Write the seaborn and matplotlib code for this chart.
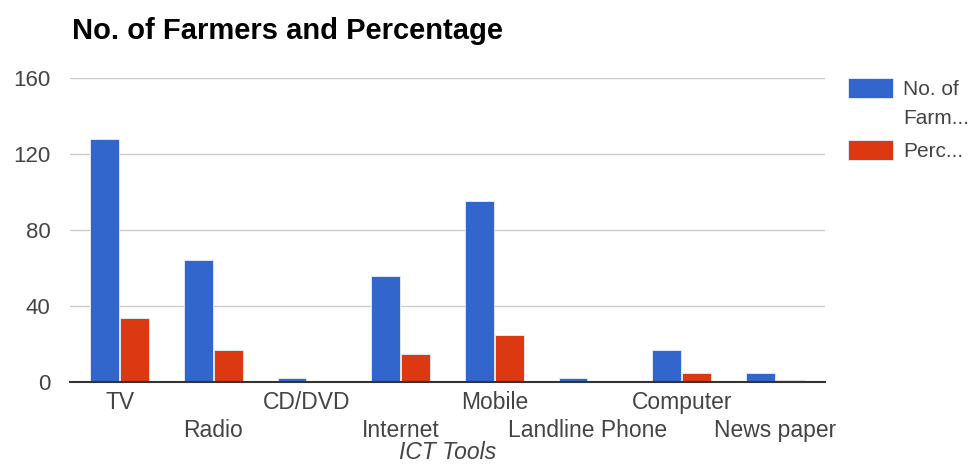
import matplotlib
matplotlib.use("Agg")
import matplotlib.pyplot as plt
from matplotlib.patches import Rectangle
import seaborn as sns
import pandas as pd

tools = ["TV", "Radio", "CD/DVD", "Internet", "Mobile", "Landline Phone", "Computer", "News paper"]
farmers = [128, 64, 2, 56, 95, 2, 17, 5]
percentage = [33.6, 16.8, 0.5, 14.7, 24.9, 0.5, 4.5, 1.3]
series = ["No. of Farmers", "Percentage"]
legend_lines = [["No. of", "Farm..."], ["Perc..."]]
yticks = [0, 40, 80, 120, 160]

colors = ["#3366CC", "#DC3912"]

df = pd.DataFrame({
    "tool": tools * 2,
    "value": farmers + percentage,
    "series": [series[0]] * len(tools) + [series[1]] * len(tools),
})

sns.set_theme(style="white")
plt.rcParams["font.family"] = ["Liberation Sans", "DejaVu Sans"]

W, H = 973, 465
fig = plt.figure(figsize=(W / 100, H / 100), dpi=100)
ax = fig.add_axes([70 / W, 1 - 382 / H, 755 / W, 304 / H])

sns.barplot(data=df, x="tool", y="value", hue="series", order=tools,
            hue_order=series, palette=colors, saturation=1, width=0.64, gap=0.04,
            edgecolor="#e8eefa", linewidth=0.6, legend=False, ax=ax, zorder=3)

ax.set_xlim(-0.53, len(tools) - 0.47)
ax.set_ylim(0, 160)
ax.set_yticks(yticks)
ax.set_yticklabels([str(v) for v in yticks], color="#444444", fontsize=16)
ax.yaxis.grid(True, color="#cccccc", linewidth=1.0, zorder=0)
ax.set_axisbelow(True)
for side in ["top", "right", "left"]:
    ax.spines[side].set_visible(False)
ax.spines["bottom"].set_color("#333333")
ax.spines["bottom"].set_linewidth(1.5)
ax.spines["bottom"].set_zorder(5)
ax.tick_params(axis="both", length=0)
ax.tick_params(axis="y", pad=14)

ax.set_xticks(range(len(tools)))
ax.set_xticklabels(tools, color="#444444", fontsize=16.5)
for i, tick in enumerate(ax.xaxis.get_major_ticks()):
    tick.set_pad(6.5 if i % 2 == 0 else 26.5)
ax.set_xlabel("")
ax.set_ylabel("")

fig.text(72 / W, 1 - 39 / H, "No. of Farmers and Percentage", fontsize=21,
         fontweight="bold", color="#000000", va="baseline", ha="left")
fig.text(448 / W, 1 - 459 / H, "ICT Tools", fontsize=16.5, style="italic",
         color="#444444", va="baseline", ha="center")

# legend: colour swatches and truncated series names
swatch_tops = [78, 140]
for color, top in zip(colors, swatch_tops):
    fig.add_artist(Rectangle((848 / W, 1 - (top + 20) / H), 45 / W, 20 / H,
                             transform=fig.transFigure, facecolor=color,
                             edgecolor="#e8eefa", linewidth=0.6))
baselines = [[95, 124], [157]]
for lines, bases in zip(legend_lines, baselines):
    for line, base in zip(lines, bases):
        fig.text(903 / W, 1 - base / H, line, fontsize=15, color="#444444",
                 va="baseline", ha="left")

fig.savefig("out.png", dpi=100, facecolor="white")
